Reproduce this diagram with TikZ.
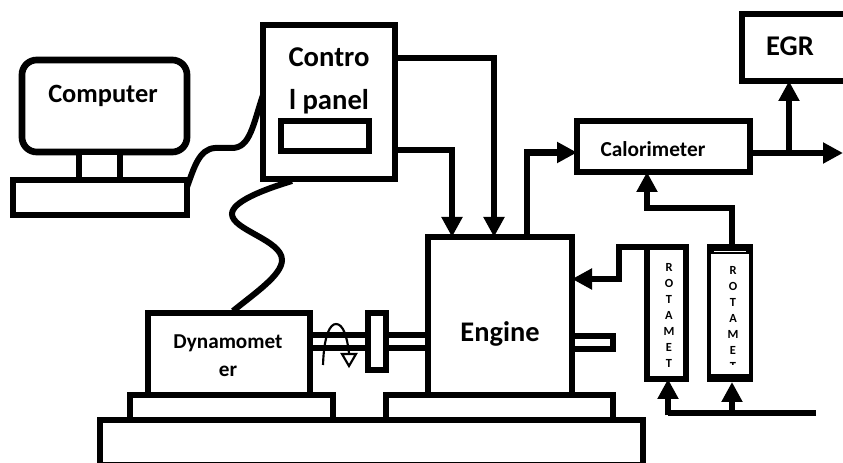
\documentclass[tikz,border=0pt]{standalone}
\usepackage{fontspec}
\setmainfont{Carlito}
\usetikzlibrary{arrows.meta}
\tikzset{
  x=0.75pt,y=-0.75pt,
  thick line/.style={line width=5pt,line cap=butt,line join=miter},
  box/.style={draw,thick line,fill=white,outer sep=0pt,inner sep=0pt,anchor=north west},
  arrowline/.style={thick line,-{Triangle[width=15pt,length=15pt]}},
  cable/.style={line width=4.5pt,line cap=butt},
  lbl/.style={font=\bfseries,inner sep=0pt,align=center},
  rotatext/.style={font=\bfseries\fontsize{9.3}{12}\selectfont,inner sep=0pt,align=center,anchor=north},
}
\begin{document}
\begin{tikzpicture}
\useasboundingbox (0,0) rectangle (843,463);
% bases
\node[box,minimum width=543*0.75pt,minimum height=45.6*0.75pt] (bed) at (100,420) {};
\node[box,minimum width=203*0.75pt,minimum height=25*0.75pt] (baseL) at (130,395) {};
\node[box,minimum width=227*0.75pt,minimum height=25*0.75pt] (baseR) at (386,395) {};
% computer
\node[box,rounded corners=11pt,minimum width=165*0.75pt,minimum height=92*0.75pt] (monitor) at (22,60) {};
\node[box,minimum width=41*0.75pt,minimum height=28*0.75pt] (stand) at (79,152) {};
\node[box,minimum width=174*0.75pt,minimum height=35*0.75pt] (keyboard) at (13,180) {};
\node[lbl,font=\bfseries\fontsize{19.8}{24}\selectfont] (computertext) at (103,96) {Computer};
% control panel
\node[box,minimum width=132*0.75pt,minimum height=154*0.75pt] (panel) at (263,25) {};
\node[box,minimum width=88*0.75pt,minimum height=30*0.75pt] (display) at (281,121) {};
\node[lbl,font=\bfseries\fontsize{21.5}{32}\selectfont] (paneltext) at (329,81) {Contro\\l panel};
% engine
\node[box,minimum width=144*0.75pt,minimum height=158*0.75pt] (engine) at (428,237) {};
\node[lbl,font=\bfseries\fontsize{21.3}{26}\selectfont] (enginetext) at (500,334) {Engine};
% calorimeter, EGR
\node[box,minimum width=173*0.75pt,minimum height=51*0.75pt] (cal) at (577,121) {};
\node[lbl,font=\bfseries\fontsize{16}{20}\selectfont] (caltext) at (653,149) {Calorimeter};
\node[box,minimum width=110*0.75pt,minimum height=67*0.75pt] (egr) at (742,14) {};
\node[lbl,font=\bfseries\fontsize{21.4}{26}\selectfont] (egrtext) at (790,46) {EGR};
% dynamometer
\node[box,minimum width=162*0.75pt,minimum height=82*0.75pt] (dyno) at (148,313) {};
\node[lbl,font=\bfseries\fontsize{15.9}{20.8}\selectfont] (dynotext) at (228,356) {Dynamomet\\er};
% shafts
\coordinate (shaftEndT) at (613,336);
\coordinate (shaftEndB) at (613,349);
\node[box,minimum width=18*0.75pt,minimum height=57*0.75pt] (collar) at (368,313) {};
\draw[thick line,line width=4.2pt] (dyno.east |- 0,335) -- (collar.west |- 0,335);
\draw[thick line,line width=4.2pt] (dyno.east |- 0,348) -- (collar.west |- 0,348);
\draw[thick line,line width=4.2pt] (collar.east |- 0,335) -- (engine.west |- 0,335);
\draw[thick line,line width=4.2pt] (collar.east |- 0,348) -- (engine.west |- 0,348);
\draw[thick line] (engine.east |- shaftEndT) -- (shaftEndT) -- (shaftEndB) -- (engine.east |- shaftEndB);
% rotation symbol
\coordinate (rotA) at (323,365);
\coordinate (rotB) at (349,353);
\draw[line width=1.6pt] (rotA) .. controls (324,335) and (330,324) .. (336,324) .. controls (343,324) and (347,336) .. (rotB);
\draw[line width=1.6pt,fill=white] (342,354) -- (356,354) -- (349,366) -- cycle;
% rotameters
\node[box,line width=5.2pt,minimum width=39*0.75pt,minimum height=132*0.75pt] (rota) at (647,247) {};
\node[rotatext] (rotatext) at (669,263) {R\\O\\T\\A\\M\\E\\T};
\fill (707,244) rectangle (753,382);
\node[anchor=north west,fill=white,inner sep=0pt,outer sep=0pt,minimum width=38*0.75pt,minimum height=120*0.75pt] (rotb) at (711,254) {};
\coordinate (rotbTop) at (732,244);
\coordinate (rotbBot) at (732,382);
\draw[white,line width=0.6pt] (714,251) -- (746,251);
\begin{scope}
\clip (711,254) rectangle (749,364.5);
\node[rotatext] (rotbtext) at (733,266) {R\\O\\T\\A\\M\\E\\T};
\end{scope}
% connectors
\draw[cable] (keyboard.east |- 0,187) .. controls (194,168) and (199,149) .. (215,148) -- (232,148) .. controls (250,148) and (253,125) .. (panel.west |- 0,95);
\draw[cable] (292,181) .. controls (262,190) and (232,202) .. (232,214) .. controls (232,230) and (282,240) .. (282,260) .. controls (282,275) and (255,293) .. (233,311);
\coordinate (p1) at (494,58);
\coordinate (p2) at (452,150);
\draw[arrowline] (panel.east |- p1) -- (p1) -- (p1 |- engine.north);
\draw[arrowline] (panel.east |- p2) -- (p2) -- (p2 |- engine.north);
\coordinate (e1) at (527,152.5);
\draw[arrowline] (e1 |- engine.north) -- (e1) -- (cal.west |- e1);
\coordinate (c1) at (647,208);
\draw[arrowline] (rotbTop) -- (rotbTop |- c1) -- (c1) -- (c1 |- cal.south);
\coordinate (outEnd) at (843,153);
\coordinate (branch) at (789,153);
\draw[arrowline] (cal.east |- outEnd) -- (outEnd);
\draw[arrowline] (branch) -- (branch |- egr.south);
\coordinate (r1) at (619,247);
\coordinate (r2) at (619,279);
\draw[arrowline] (rota.north west) -- (r1) -- (r2) -- (engine.east |- r2);
\coordinate (pipeEnd) at (816,413);
\coordinate (pipeStart) at (668,413);
\draw[thick line] (pipeEnd) -- (pipeStart);
\draw[arrowline] (pipeStart) ++(0,2.5) -- (rota.south -| pipeStart);
\draw[arrowline] (rotbBot |- pipeEnd) -- (rotbBot);
\end{tikzpicture}
\end{document}
